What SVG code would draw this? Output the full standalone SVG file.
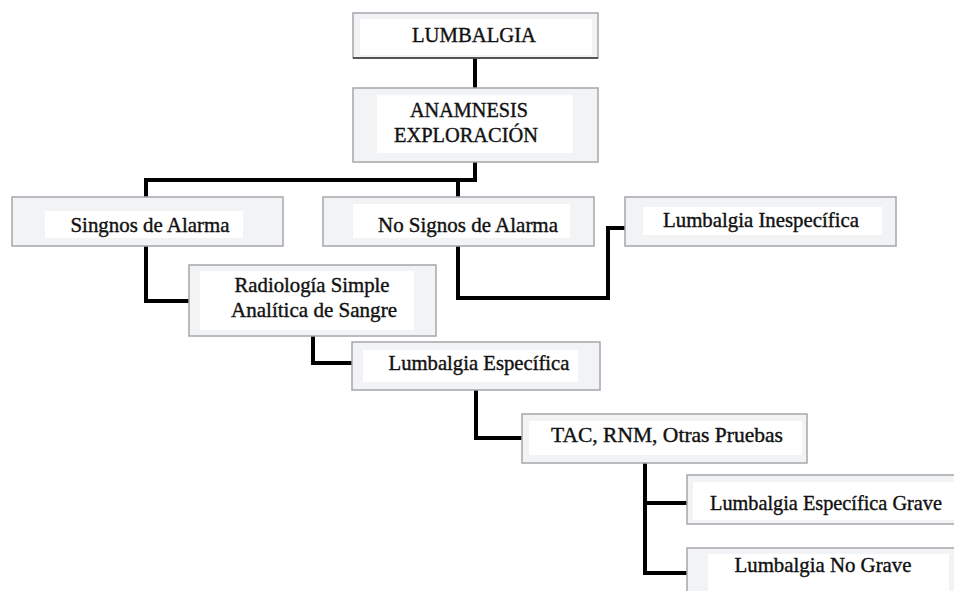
<svg xmlns="http://www.w3.org/2000/svg" width="954" height="591" viewBox="0 0 954 591">
<style>
.box{fill:#f2f3f5;stroke:#a4a7ab;stroke-width:1.5}
.in{fill:#ffffff}
.t{font-family:'Times New Roman','Liberation Serif',Tinos,'DejaVu Serif',serif;font-size:22px;fill:#111;stroke:#111;stroke-width:0.4;text-anchor:middle}
.c{fill:none;stroke:#000;stroke-width:4;stroke-linejoin:miter}
</style>
<rect width="954" height="591" fill="#ffffff"/>
<g id="connectors">
<path class="c" d="M475 58V88"/>
<path class="c" d="M475 162V180H146V197M458 180V197"/>
<path class="c" d="M458 246V298H608V228H625"/>
<path class="c" d="M146 246V301H189"/>
<path class="c" d="M313 336V363H352"/>
<path class="c" d="M476 390V438H522"/>
<path class="c" d="M645 463V573H687M645 503H687"/>
</g>
<g id="n1"><rect class="box" x="353" y="13" width="245" height="45"/><rect class="in" x="360" y="19" width="232" height="36"/><line x1="353" y1="58" x2="598" y2="58" stroke="#333" stroke-width="1.5"/><text class="t" x="474" y="42" textLength="124" lengthAdjust="spacingAndGlyphs">LUMBALGIA</text></g>
<g id="n2"><rect class="box" x="353" y="88" width="245" height="74"/><rect class="in" x="377" y="95" width="196" height="58"/><text class="t" x="469" y="117" textLength="118" lengthAdjust="spacingAndGlyphs">ANAMNESIS</text><text class="t" x="466" y="142" textLength="144" lengthAdjust="spacingAndGlyphs">EXPLORACIÓN</text></g>
<g id="n3"><rect class="box" x="12" y="197" width="271" height="49"/><rect class="in" x="45" y="211" width="198" height="27"/><text class="t" x="150" y="232" textLength="159" lengthAdjust="spacingAndGlyphs">Singnos de Alarma</text></g>
<g id="n4"><rect class="box" x="323" y="197" width="271" height="49"/><rect class="in" x="353" y="204" width="217" height="34"/><text class="t" x="468" y="232" textLength="180" lengthAdjust="spacingAndGlyphs">No Signos de Alarma</text></g>
<g id="n5"><rect class="box" x="625" y="197" width="271" height="49"/><rect class="in" x="643" y="207" width="239" height="28"/><text class="t" x="761" y="227" textLength="196" lengthAdjust="spacingAndGlyphs">Lumbalgia Inespecífica</text></g>
<g id="n6"><rect class="box" x="189" y="265" width="247" height="71"/><rect class="in" x="200" y="271" width="214" height="59"/><text class="t" x="312" y="292" textLength="155" lengthAdjust="spacingAndGlyphs">Radiología Simple</text><text class="t" x="314" y="317" textLength="166" lengthAdjust="spacingAndGlyphs">Analítica de Sangre</text></g>
<g id="n7"><rect class="box" x="352" y="342" width="248" height="48"/><rect class="in" x="363" y="350" width="215" height="32"/><text class="t" x="479" y="370" textLength="181" lengthAdjust="spacingAndGlyphs">Lumbalgia Específica</text></g>
<g id="n8"><rect class="box" x="522" y="414" width="285" height="49"/><rect class="in" x="529" y="421" width="273" height="34"/><text class="t" x="667" y="442" textLength="232" lengthAdjust="spacingAndGlyphs">TAC, RNM, Otras Pruebas</text></g>
<g id="n9"><rect class="box" x="687" y="475" width="270" height="49"/><rect class="in" x="693" y="482" width="262" height="38"/><text class="t" x="826" y="510" textLength="232" lengthAdjust="spacingAndGlyphs">Lumbalgia Específica Grave</text></g>
<g id="n10"><rect class="box" x="687" y="548" width="270" height="50"/><rect class="in" x="708" y="554" width="241" height="40"/><text class="t" x="823" y="572" textLength="177" lengthAdjust="spacingAndGlyphs">Lumbalgia No Grave</text></g>
</svg>
